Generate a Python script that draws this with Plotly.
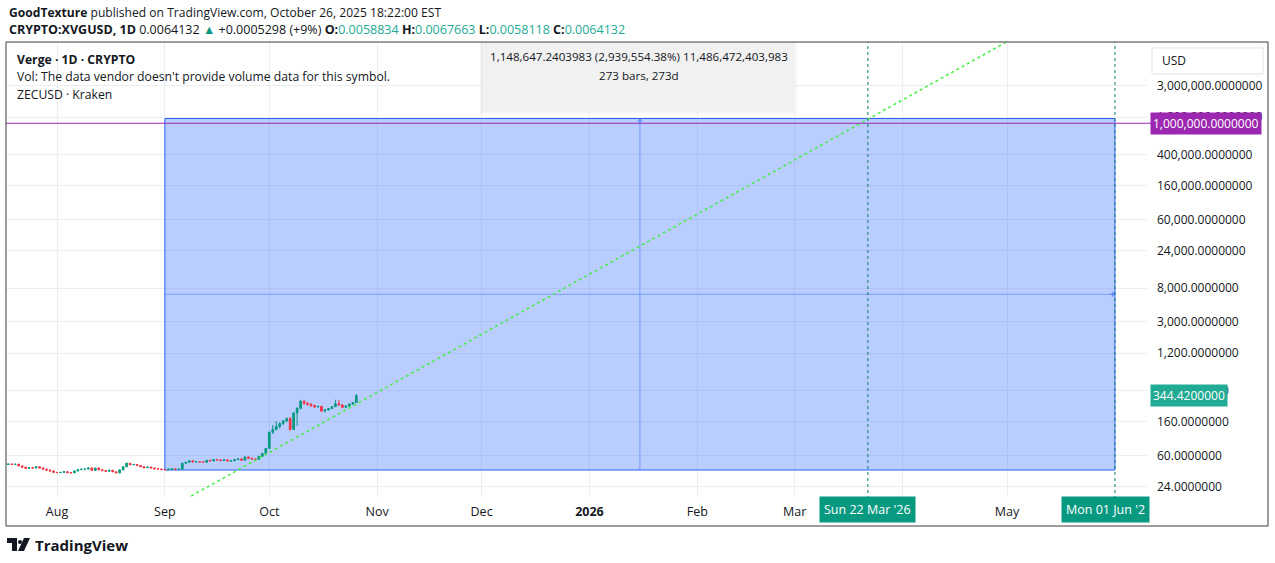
import numpy as np
import pandas as pd
import plotly.graph_objects as go

# ---------------- data ----------------
start_date = "2025-07-17"
opens = [48.0, 46.0, 46.5, 46.0, 46.3, 44.0, 42.5, 41.0, 41.8, 41.5, 43.0, 41.5, 40.0, 39.0, 38.0,
         36.5, 36.3, 36.5, 37.2, 36.2, 36.0, 38.0, 39.5, 40.0, 40.2, 41.5, 38.6, 41.4, 39.3, 38.4,
         37.6, 38.8, 37.1, 36.0, 39.2, 43.0, 47.6, 45.6, 46.0, 44.5, 43.0, 41.8, 42.6, 41.5, 40.5, 40.3,
         39.6, 39.3, 40.1, 40.4, 39.8, 40.1, 47.6, 49.0, 51.2, 49.5, 49.8, 49.6, 48.9, 52.0, 51.0,
         53.1, 52.5, 51.5, 52.6, 51.0, 51.1, 53.0, 54.1, 52.0, 57.2, 55.1, 54.0, 53.3, 58.3, 63.5,
         73.5, 118, 128, 140, 152, 165, 176, 128, 208, 238, 292, 276, 268, 258, 248, 252, 220, 228,
         236, 250, 272, 262, 245, 255, 270, 281]
highs = [48.8, 47.0, 47.2, 46.9, 46.8, 44.6, 43.4, 42.3, 42.4, 43.6, 43.4, 42.0, 40.5, 39.5, 38.4,
         37.0, 36.9, 37.6, 37.5, 36.6, 38.3, 39.9, 40.4, 40.7, 41.9, 41.9, 41.8, 42.0, 39.7, 38.8,
         39.1, 39.0, 37.4, 39.6, 43.5, 48.5, 48.0, 46.5, 46.3, 44.8, 43.5, 43.0, 42.9, 41.8, 40.9, 40.6,
         40.1, 40.5, 40.8, 40.7, 40.4, 48.3, 49.5, 51.8, 51.6, 50.2, 50.3, 50.0, 52.4, 52.6, 53.6,
         53.8, 52.9, 53.0, 52.9, 51.6, 53.4, 54.6, 54.5, 58.5, 57.8, 55.7, 54.5, 58.9, 64.5, 74.5,
         121, 146, 163, 158, 168, 182, 184, 212, 245, 306, 302, 285, 277, 266, 258, 256, 232, 240,
         255, 306, 302, 268, 260, 274, 286, 362]
lows = [45.6, 45.5, 45.8, 45.4, 43.6, 42.1, 40.6, 40.5, 41.0, 41.2, 41.1, 39.6, 38.6, 37.6, 36.1,
        35.8, 35.9, 36.2, 35.9, 35.5, 35.8, 37.7, 39.1, 39.6, 39.9, 38.2, 38.3, 38.9, 38.0, 37.3,
        37.4, 36.8, 35.6, 35.4, 38.9, 42.6, 45.2, 45.1, 44.1, 42.6, 41.3, 41.5, 41.1, 40.2, 39.9, 39.3,
        39.07, 39.1, 39.8, 39.5, 39.6, 39.9, 47.0, 48.6, 49.1, 49.0, 49.2, 48.5, 48.7, 50.6, 50.7,
        52.1, 51.1, 51.2, 50.6, 50.6, 50.8, 52.6, 51.6, 51.7, 54.6, 53.6, 52.8, 53.0, 57.8, 62.8,
        72.5, 112, 124, 132, 146, 158, 124, 126, 142, 230, 262, 258, 248, 240, 242, 212, 210, 222,
        232, 246, 258, 238, 240, 250, 264, 278]
closes = [46.0, 46.5, 46.0, 46.3, 44.0, 42.5, 41.0, 41.8, 41.5, 43.0, 41.5, 40.0, 39.0, 38.0, 36.5,
          36.3, 36.5, 37.2, 36.2, 36.0, 38.0, 39.5, 40.0, 40.2, 41.5, 38.6, 41.4, 39.3, 38.4, 37.6,
          38.8, 37.1, 36.0, 39.2, 43.0, 47.6, 45.6, 46.0, 44.5, 43.0, 41.8, 42.6, 41.5, 40.5, 40.3, 39.6,
          39.3, 40.1, 40.4, 39.8, 40.1, 47.6, 49.0, 51.2, 49.5, 49.8, 49.6, 48.9, 52.0, 51.0, 53.1,
          52.5, 51.5, 52.6, 51.0, 51.1, 53.0, 54.1, 52.0, 57.2, 55.1, 54.0, 53.3, 58.3, 63.5, 73.5,
          118, 128, 140, 152, 165, 176, 128, 208, 238, 292, 276, 268, 258, 248, 252, 220, 228, 236,
          250, 272, 262, 245, 255, 270, 281, 344.42]

x_tick_dates = ["2025-08-01", "2025-09-01", "2025-10-01", "2025-11-01", "2025-12-01",
                "2026-01-01", "2026-02-01", "2026-03-01", "2026-04-01", "2026-05-01"]
x_tick_labels = ["Aug", "Sep", "Oct", "Nov", "Dec", "<b>2026</b>", "Feb", "Mar", "", "May"]
y_tick_values = [24, 60, 160, 400, 1200, 3000, 8000, 24000, 60000, 160000, 400000, 1200000, 3000000]

range_start_date = "2025-09-01"
range_end_date = "2026-06-01"
range_low = 39.07
range_high = 1148686.30
target_level = 1_000_000
last_price = 344.42

trend_dates = ["2025-09-01", "2026-05-20"]
trend_values = [11.9, 3.2e7]

marker_dates = ["2026-03-22", "2026-06-01"]
marker_labels = ["Sun 22 Mar '26", "Mon 01 Jun '2"]

x_range = ["2025-07-17 08:17", "2026-06-10 05:00"]
y_range_log = [1.249, 7.033]

# ---------------- layout helpers ----------------
W, H = 1275, 563
L, R, T, B = 6, 1147, 42, 497


def px(x):
    return (x - L) / (R - L)


def py(y):
    return (B - y) / (B - T)


FONT = "Open Sans"
TXT = "#131722"
GREEN = "#089981"
TEAL = "#22ab94"
RED = "#f23645"
BLUE = "#2962ff"

dates = pd.date_range(start_date, periods=len(closes), freq="D")

fig = go.Figure()
fig.add_trace(go.Candlestick(
    x=dates, open=opens, high=highs, low=lows, close=closes,
    increasing=dict(line=dict(color=GREEN, width=1), fillcolor=GREEN),
    decreasing=dict(line=dict(color=RED, width=1), fillcolor=RED),
    whiskerwidth=0, showlegend=False, hoverinfo="skip",
))
fig.add_trace(go.Scatter(
    x=trend_dates, y=trend_values, mode="lines",
    line=dict(color="#45ee45", width=1.5, dash="dot"),
    showlegend=False, hoverinfo="skip",
))

shapes = []
# date/price range box
shapes.append(dict(type="rect", xref="x", yref="y", x0=range_start_date, x1=range_end_date,
                   y0=range_low, y1=range_high, fillcolor="rgba(41,98,255,0.32)",
                   line=dict(color=BLUE, width=1), layer="between"))
mid_date = pd.Timestamp(range_start_date) + (pd.Timestamp(range_end_date) - pd.Timestamp(range_start_date)) / 2
mid_val = float(np.sqrt(range_low * range_high))
shapes.append(dict(type="line", xref="x", yref="y", x0=range_start_date, x1=range_end_date,
                   y0=mid_val, y1=mid_val, line=dict(color="rgba(41,98,255,0.45)", width=1), layer="between"))
shapes.append(dict(type="line", xref="x", yref="y", x0=mid_date, x1=mid_date,
                   y0=range_low, y1=range_high, line=dict(color="rgba(41,98,255,0.45)", width=1), layer="between"))
# target level line
shapes.append(dict(type="line", xref="paper", yref="y", x0=0, x1=px(1151), y0=target_level, y1=target_level,
                   line=dict(color="#9c27b0", width=1)))
# vertical dotted markers
for d in marker_dates:
    shapes.append(dict(type="line", xref="x", yref="paper", x0=d, x1=d, y0=py(505), y1=1,
                       line=dict(color="#0a7d6c", width=1, dash="dot")))
# info box
shapes.append(dict(type="rect", xref="paper", yref="paper", x0=px(480), x1=px(797), y0=py(114), y1=py(42),
                   fillcolor="rgba(0,0,0,0.03)", line=dict(width=0)))
shapes.append(dict(type="rect", xref="paper", yref="paper", x0=px(482), x1=px(795), y0=py(112), y1=py(42),
                   fillcolor="#f1f1f1", line=dict(width=0)))
# USD box
shapes.append(dict(type="rect", xref="paper", yref="paper", x0=px(1152), x1=px(1263), y0=py(74), y1=py(48),
                   fillcolor="white", line=dict(color="#e0e3eb", width=1)))
# outer frame
shapes.append(dict(type="rect", xref="paper", yref="paper", x0=px(6), x1=px(1268), y0=py(526), y1=py(42),
                   line=dict(color="#3c3c3c", width=1), fillcolor="rgba(0,0,0,0)"))


def P(x, y):
    return f"{px(x):.5f},{py(y):.5f}"


# TradingView logo glyph
shapes.append(dict(type="path", xref="paper", yref="paper",
                   path=f"M{P(7,538)} L{P(17,538)} L{P(17,551)} L{P(12,551)} L{P(12,543)} L{P(7,543)} Z",
                   fillcolor=TXT, line=dict(width=0)))
shapes.append(dict(type="circle", xref="paper", yref="paper", x0=px(18), x1=px(22), y0=py(544), y1=py(540),
                   fillcolor=TXT, line=dict(width=0)))
shapes.append(dict(type="path", xref="paper", yref="paper",
                   path=f"M{P(24,538)} L{P(30,538)} L{P(24,551)} L{P(18,551)} Z",
                   fillcolor=TXT, line=dict(width=0)))

ann = []


def text(x, y, s, size=12.5, color=TXT, anchor="left", **kw):
    ann.append(dict(xref="paper", yref="paper", x=px(x), y=py(y), text=s, showarrow=False,
                    xanchor=anchor, yanchor="middle", font=dict(family=FONT, size=size, color=color), **kw))


text(7, 12, "<b>GoodTexture</b> published on TradingView.com, October 26, 2025 18:22:00 EST", size=12.1)
text(7, 29, f"<b>CRYPTO:XVGUSD, 1D</b> 0.0064132 <span style='color:{GREEN}'>▲</span> +0.0005298 (+9%) "
            f"<b>O:</b><span style='color:{TEAL}'>0.0058834</span> <b>H:</b><span style='color:{TEAL}'>0.0067663</span> "
            f"<b>L:</b><span style='color:{TEAL}'>0.0058118</span> <b>C:</b><span style='color:{TEAL}'>0.0064132</span>",
     size=12.5)
text(15, 60, "<b>Verge · 1D · CRYPTO</b>", size=12.2)
text(15, 77, "Vol: The data vendor doesn't provide volume data for this symbol.", size=12.2)
text(15, 94, "ZECUSD · Kraken", size=12.2)
text(639, 56, "1,148,647.2403983 (2,939,554.38%) 11,486,472,403,983", size=11.6, anchor="center")
text(639, 76, "273 bars, 273d", size=11.6, anchor="center")
text(1160, 61, "USD", size=12)
text(33, 545, "<b>TradingView</b>", size=15)

# price labels on the axis
ann.append(dict(xref="paper", yref="y", x=px(1150), y=np.log10(target_level), text=f"{target_level:,.7f}",
                showarrow=False, xanchor="left", yanchor="middle", bgcolor="#9c27b0", borderpad=2,
                font=dict(family=FONT, size=12, color="white")))
ann.append(dict(xref="paper", yref="y", x=px(1150), y=np.log10(last_price), text=f"{last_price:,.7f}",
                showarrow=False, xanchor="left", yanchor="middle", bgcolor=TEAL, borderpad=2,
                font=dict(family=FONT, size=12, color="white")))
# date labels on the time axis
for d, lab in zip(marker_dates, marker_labels):
    ann.append(dict(xref="x", yref="paper", x=d, y=py(510), text=lab, showarrow=False,
                    xanchor="center" if lab.endswith("26") else "left",
                    yanchor="middle", bgcolor=GREEN, borderpad=4,
                    font=dict(family=FONT, size=12.5, color="white")))
ann[-1]["x"] = pd.Timestamp(marker_dates[1]) - pd.Timedelta(days=15.5)
# arrows on the range box mid lines
ann.append(dict(xref="x", yref="y", x=range_end_date, y=np.log10(mid_val), ax=-7, ay=0,
                showarrow=True, arrowhead=1, arrowwidth=1, arrowcolor="rgba(41,98,255,0.5)", text=""))
ann.append(dict(xref="x", yref="y", x=mid_date, y=np.log10(range_high), ax=0, ay=7,
                showarrow=True, arrowhead=1, arrowwidth=1, arrowcolor="rgba(41,98,255,0.5)", text=""))

fig.update_layout(
    width=W, height=H, autosize=False,
    margin=dict(l=L, r=W - R, t=T, b=H - B),
    paper_bgcolor="white", plot_bgcolor="white",
    shapes=shapes, annotations=ann, showlegend=False,
    font=dict(family=FONT, color=TXT),
    xaxis=dict(type="date", range=x_range, tickvals=x_tick_dates, ticktext=x_tick_labels,
               showgrid=True, gridcolor="#eceef2", gridwidth=1, zeroline=False, showline=False,
               ticks="", ticklabelstandoff=5, tickfont=dict(family=FONT, size=12.5, color=TXT),
               rangeslider=dict(visible=False), fixedrange=True),
    yaxis=dict(type="log", side="right", range=y_range_log, tickvals=y_tick_values,
               ticktext=[f"{v:,.7f}" for v in y_tick_values],
               showgrid=True, gridcolor="#eceef2", gridwidth=1, zeroline=False, showline=False,
               ticks="", ticklabelstandoff=9, tickfont=dict(family=FONT, size=12, color=TXT), fixedrange=True),
)

fig.write_html("out.html", config={"displayModeBar": False},
               post_script="document.body.style.margin='0';document.body.style.overflow='hidden';")
